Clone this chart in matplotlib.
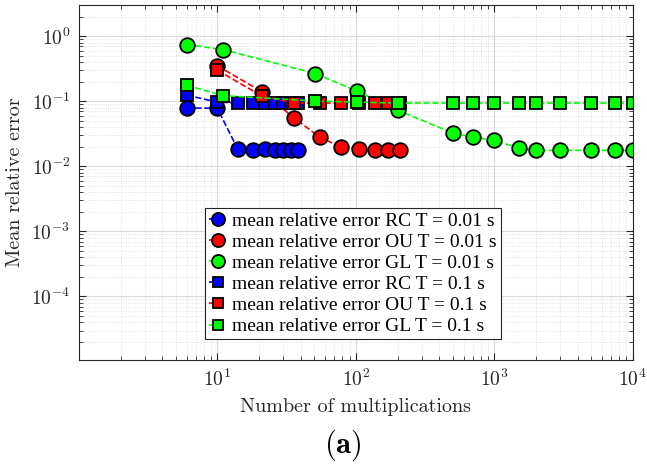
import math
import matplotlib.pyplot as plt
from matplotlib.ticker import FuncFormatter, LogLocator

plt.rcParams['mathtext.fontset'] = 'cm'

# data
x_rc = [6, 10, 14, 18, 22, 26, 30, 34, 38]
rc_001 = [0.079, 0.078, 0.0185, 0.018, 0.0185, 0.018, 0.0178, 0.018, 0.018]
rc_01 = [0.124, 0.097, 0.094, 0.094, 0.094, 0.094, 0.094, 0.094, 0.094]

x_ou = [10, 21, 36, 55, 78, 105, 137, 171, 210]
ou_001 = [0.35, 0.14, 0.055, 0.028, 0.0198, 0.0183, 0.0176, 0.0176, 0.0176]
ou_01 = [0.30, 0.12, 0.094, 0.094, 0.094, 0.094, 0.094, 0.094, 0.094]

x_gl = [6, 11, 51, 102, 200, 500, 700, 1000, 1500, 2000, 3000, 5000, 7500, 10000]
gl_001 = [0.745, 0.624, 0.267, 0.143, 0.073, 0.0326, 0.0282, 0.0251, 0.0191,
          0.0176, 0.0176, 0.0176, 0.0176, 0.0176]
gl_01 = [0.176, 0.122, 0.101, 0.097, 0.094, 0.094, 0.094, 0.094, 0.094,
         0.094, 0.094, 0.094, 0.094, 0.094]

x_ticks = [10, 100, 1000, 10000]
y_ticks = [1e-4, 1e-3, 1e-2, 1e-1, 1]

labels = ['mean relative error RC T = 0.01 s',
          'mean relative error OU T = 0.01 s',
          'mean relative error GL T = 0.01 s',
          'mean relative error RC T = 0.1 s',
          'mean relative error OU T = 0.1 s',
          'mean relative error GL T = 0.1 s']

fig = plt.figure(figsize=(6.47, 4.69), dpi=100)
ax = fig.add_axes([0.122, 0.232, 0.856, 0.757])

series = [(x_rc, rc_001, 'b', 'o'), (x_ou, ou_001, 'r', 'o'), (x_gl, gl_001, 'lime', 'o'),
          (x_rc, rc_01, 'b', 's'), (x_ou, ou_01, 'r', 's'), (x_gl, gl_01, 'lime', 's')]
for (x, y, c, m), lab in zip(series, labels):
    ms = 10.5 if m == 'o' else 8.5
    ax.plot(x, y, '--', color=c, lw=1.2, marker=m, ms=ms, mfc=c, mec='k', mew=1.3,
            label=lab)

ax.set_xscale('log')
ax.set_yscale('log')
ax.set_xlim(1, 1e4)
ax.set_ylim(1.05e-5, 3)
ax.set_xticks(x_ticks)
ax.set_yticks(y_ticks)
ax.xaxis.set_minor_locator(LogLocator(subs=range(2, 10)))
ax.yaxis.set_minor_locator(LogLocator(subs=range(2, 10)))
fmt = FuncFormatter(lambda v, p: r'$\mathrm{10^{%d}}$' % round(math.log10(v)))
ax.xaxis.set_major_formatter(fmt)
ax.yaxis.set_major_formatter(fmt)

ax.grid(True, which='major', color='0.85', lw=0.8)
ax.grid(True, which='minor', color='0.85', lw=0.6, ls=':')
ax.set_axisbelow(True)
ax.tick_params(which='both', direction='in', top=True, right=True, colors='0.15',
               labelsize=14)
ax.tick_params(which='major', length=5, pad=6)
ax.tick_params(which='minor', length=3)
for s in ax.spines.values():
    s.set_color('0.15')

ax.set_xlabel('Number of multiplications', fontsize=14.5, family='cmr10', color='0.15',
              labelpad=6)
ax.set_ylabel('Mean relative error', fontsize=14.5, family='cmr10', color='0.15',
              labelpad=5)

leg = ax.legend(loc='lower left', bbox_to_anchor=(0.2275, 0.059),
                prop={'family': 'Liberation Serif', 'size': 14},
                handlelength=0.9, handletextpad=0.3, borderpad=0.2, labelspacing=0.18,
                borderaxespad=0, fancybox=False, edgecolor='0.15', framealpha=1,
                markerscale=0.9)
leg.get_frame().set_linewidth(0.8)

fig.text(0.53, 0.05, r'$\mathbf{(a)}$', fontsize=22, ha='center', va='center')

fig.savefig('out.png', dpi=100)
